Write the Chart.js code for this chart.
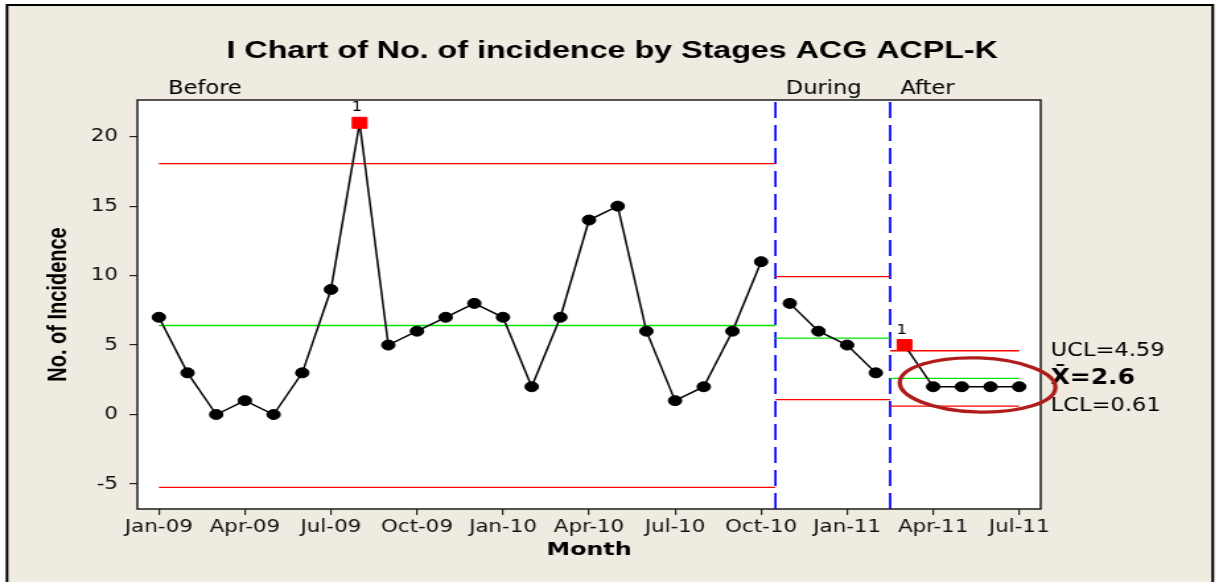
<!DOCTYPE html>
<html>
<head>
<meta charset="utf-8">
<title>I Chart of No. of incidence</title>
<script src="https://cdn.jsdelivr.net/npm/chart.js@4.4.0/dist/chart.umd.min.js"></script>
<style>
  html, body { margin: 0; padding: 0; background: #fff; }
</style>
</head>
<body>
<!-- the picture is a horizontally stretched Minitab graph, so the canvas is drawn narrow and widened by its inline style -->
<canvas id="c" width="923" height="582" style="display:block;width:1219px;height:582px"></canvas>
<script>
// values
const months = ['Jan-09', 'Feb-09', 'Mar-09', 'Apr-09', 'May-09', 'Jun-09', 'Jul-09', 'Aug-09', 'Sep-09', 'Oct-09', 'Nov-09', 'Dec-09',
                'Jan-10', 'Feb-10', 'Mar-10', 'Apr-10', 'May-10', 'Jun-10', 'Jul-10', 'Aug-10', 'Sep-10', 'Oct-10', 'Nov-10', 'Dec-10',
                'Jan-11', 'Feb-11', 'Mar-11', 'Apr-11', 'May-11', 'Jun-11', 'Jul-11'];
const incidence = [7, 3, 0, 1, 0, 3, 9, 21, 5, 6, 7, 8,
                   7, 2, 7, 14, 15, 6, 1, 2, 6, 11, 8, 6,
                   5, 3, 5, 2, 2, 2, 2];

const stageNames = ['Before', 'During', 'After'];
const stageFirst = [0, 22, 26];
const stageLast = [21, 25, 30];
const uclValues = [18.06, 9.93, 4.59];
const clValues = [6.41, 5.5, 2.6];
const lclValues = [-5.25, 1.07, 0.61];

const xTickValues = [0, 3, 6, 9, 12, 15, 18, 21, 24, 27, 30];
const yTickValues = [-5, 0, 5, 10, 15, 20];

const TITLE = 'I Chart of No. of incidence by Stages ACG ACPL-K';
const FONT = "'DejaVu Sans Condensed', 'DejaVu Sans', sans-serif";
const X_MIN = -0.75, X_MAX = 30.75, Y_MIN = -6.8, Y_MAX = 22.64;

function isOut(s, v) {
    return v > uclValues[s] || v < lclValues[s];
}

// ---- datasets -------------------------------------------------------------
const datasets = [];

// observations, one line per stage (Minitab breaks the line between stages)
for (let s = 0; s < stageNames.length; s++) {
    const pts = [];
    for (let i = stageFirst[s]; i <= stageLast[s]; i++) {
        pts.push({ x: i, y: incidence[i] });
    }
    datasets.push({
        label: stageNames[s],
        data: pts,
        borderColor: '#000',
        borderWidth: 1.5,
        tension: 0,
        pointStyle: c => isOut(s, c.raw.y) ? 'rect' : 'circle',
        pointRadius: c => isOut(s, c.raw.y) ? 7.8 : 5,
        pointBackgroundColor: c => isOut(s, c.raw.y) ? '#ff0000' : '#000',
        pointBorderColor: c => isOut(s, c.raw.y) ? '#ff0000' : '#000',
        pointBorderWidth: 1
    });
}

// control limits and centre line of each stage
for (let s = 0; s < stageNames.length; s++) {
    const x0 = s === 0 ? stageFirst[s] : stageFirst[s] - 0.5;
    const x1 = s === stageNames.length - 1 ? stageLast[s] : stageLast[s] + 0.5;
    [[uclValues[s], '#ff0000'], [clValues[s], '#00e600'], [lclValues[s], '#ff0000']].forEach(function (lim) {
        datasets.push({
            data: [{ x: x0, y: lim[0] }, { x: x1, y: lim[0] }],
            borderColor: lim[1],
            borderWidth: 1.3,
            pointRadius: 0
        });
    });
}

// dashed stage dividers
for (let s = 1; s < stageNames.length; s++) {
    const xb = stageFirst[s] - 0.5;
    datasets.push({
        data: [{ x: xb, y: Y_MIN }, { x: xb, y: Y_MAX }],
        borderColor: '#0000ff',
        borderWidth: 1.7,
        borderDash: [16, 7],
        pointRadius: 0
    });
}

// ---- decorations: figure region, title, frame, stage names, limit labels ---
const minitabDecor = {
    id: 'minitabDecor',
    beforeDraw(chart) {
        const { ctx, width, height, chartArea: a } = chart;
        ctx.save();
        ctx.fillStyle = '#fff';
        ctx.fillRect(0, 0, width, height);
        ctx.fillStyle = '#efebe1';
        ctx.fillRect(5.3, 5, 913, 600);
        ctx.strokeStyle = '#000';
        ctx.lineWidth = 2;
        ctx.strokeRect(5.3, 5, 913, 600);
        ctx.fillStyle = '#fff';
        ctx.fillRect(a.left, a.top, a.right - a.left, a.bottom - a.top);

        // title is centred on the whole figure, not on the plot
        ctx.fillStyle = '#000';
        ctx.font = "bold 24.4px 'Liberation Sans', sans-serif";
        ctx.textAlign = 'center';
        ctx.textBaseline = 'middle';
        ctx.fillText(TITLE, width / 2 + 2, 51.4);
        ctx.restore();
    },
    afterDatasetsDraw(chart) {
        const { ctx, chartArea: a } = chart;
        const xs = chart.scales.x, ys = chart.scales.y;
        ctx.save();

        // plot frame
        ctx.strokeStyle = '#1e1e1e';
        ctx.lineWidth = 1.5;
        ctx.strokeRect(a.left, a.top, a.right - a.left, a.bottom - a.top);

        // "1" flag above points outside the limits
        ctx.fillStyle = '#000';
        ctx.font = '14px ' + FONT;
        ctx.textAlign = 'center';
        ctx.textBaseline = 'middle';
        for (let s = 0; s < stageNames.length; s++) {
            const meta = chart.getDatasetMeta(s);
            meta.data.forEach(function (el, k) {
                if (isOut(s, meta._parsed[k].y)) {
                    ctx.fillText('1', el.x - 2, el.y - 15);
                }
            });
        }

        // stage names
        ctx.font = '19px ' + FONT;
        ctx.textAlign = 'left';
        ctx.textBaseline = 'alphabetic';
        const nudge = [7, -3, -3];
        for (let s = 0; s < stageNames.length; s++) {
            ctx.fillText(stageNames[s], xs.getPixelForValue(stageFirst[s]) + nudge[s], 94);
        }

        // limit labels of the last stage
        const last = stageNames.length - 1;
        const lx = a.right + 7.5;
        ctx.textBaseline = 'middle';
        ctx.font = '19px ' + FONT;
        ctx.fillText('UCL=' + uclValues[last], lx, ys.getPixelForValue(uclValues[last]));
        ctx.fillText('LCL=' + lclValues[last], lx, ys.getPixelForValue(lclValues[last]));
        ctx.font = 'bold 21px ' + FONT;
        ctx.fillText('X\u0304=' + clValues[last], lx, ys.getPixelForValue(clValues[last]));

        // hand drawn ring round the last stage
        ctx.strokeStyle = '#b01c1c';
        ctx.lineWidth = 3.3;
        ctx.beginPath();
        ctx.ellipse(xs.getPixelForValue(28.55), ys.getPixelForValue(2.13), 59, 27, 0.05, 0, Math.PI * 2);
        ctx.stroke();

        ctx.restore();
    }
};

new Chart(document.getElementById('c'), {
    type: 'line',
    data: { datasets: datasets },
    plugins: [minitabDecor],
    options: {
        responsive: false,
        devicePixelRatio: 1,
        animation: false,
        events: [],
        layout: { padding: { left: 0, right: 135, top: 100, bottom: 0 } },
        plugins: {
            legend: { display: false },
            tooltip: { enabled: false },
            title: { display: false }
        },
        scales: {
            x: {
                type: 'linear',
                min: X_MIN,
                max: X_MAX,
                afterBuildTicks: s => { s.ticks = xTickValues.map(v => ({ value: v })); },
                afterFit: s => { s.height = 73; },
                ticks: {
                    callback: v => months[v],
                    autoSkip: false,
                    maxRotation: 0,
                    padding: 2,
                    color: '#111',
                    font: { family: FONT, size: 18 }
                },
                grid: { display: true, drawOnChartArea: false, drawTicks: true, tickLength: 6, color: '#222', lineWidth: 1.2 },
                border: { display: false },
                title: {
                    display: true,
                    text: 'Month',
                    color: '#000',
                    font: { family: 'DejaVu Sans', weight: 'bold', size: 18 },
                    padding: { top: 0, bottom: 21 }
                }
            },
            y: {
                type: 'linear',
                min: Y_MIN,
                max: Y_MAX,
                afterBuildTicks: s => { s.ticks = yTickValues.map(v => ({ value: v })); },
                afterFit: s => { s.width = 104; },
                ticks: {
                    padding: 8.6,
                    color: '#111',
                    font: { family: FONT, size: 18 }
                },
                grid: { display: true, drawOnChartArea: false, drawTicks: true, tickLength: 6, color: '#222', lineWidth: 1.2 },
                border: { display: false },
                title: {
                    display: true,
                    text: 'No. of Incidence',
                    color: '#000',
                    font: { family: 'Liberation Sans', weight: 'bold', size: 20 },
                    padding: { top: 32, bottom: 0 }
                }
            }
        }
    }
});
</script>
</body>
</html>
